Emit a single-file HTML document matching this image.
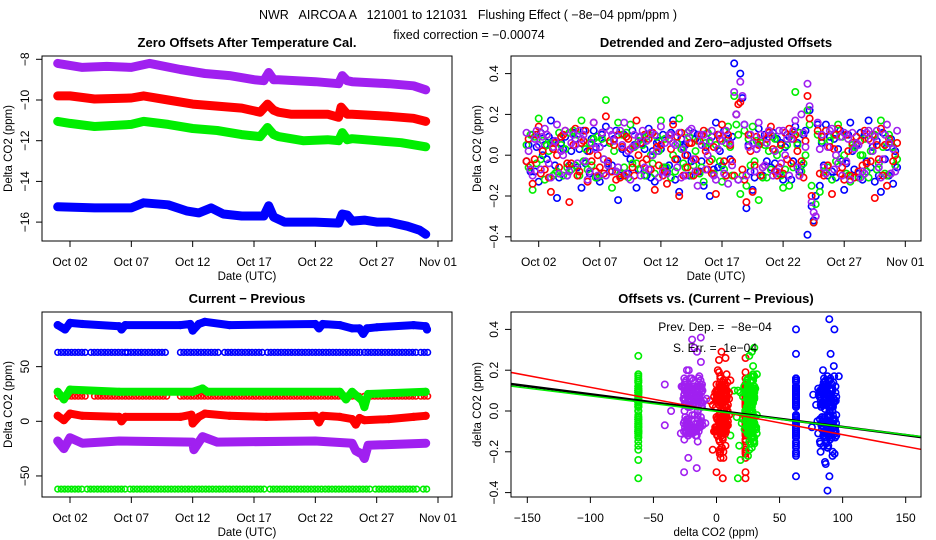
<!DOCTYPE html>
<html><head><meta charset="utf-8"><style>
body{margin:0;background:#fff}
svg{display:block;font-family:"Liberation Sans",Arial,sans-serif}
</style></head><body>
<svg id="c" width="936" height="540" viewBox="0 0 936 540">
<rect width="936" height="540" fill="#fff"/>
<text x="468" y="19" font-size="12.5" text-anchor="middle" style="white-space:pre" xml:space="preserve">NWR   AIRCOA A   121001 to 121031   Flushing Effect ( −8e−04 ppm/ppm )</text>
<text x="469" y="39" font-size="12.5" text-anchor="middle">fixed correction = −0.00074</text>
<defs>
<clipPath id="cp1"><rect x="42" y="56" width="410" height="185"/></clipPath>
<clipPath id="cp2"><rect x="511" y="56" width="410" height="185"/></clipPath>
<clipPath id="cp3"><rect x="42" y="312" width="410" height="185"/></clipPath>
<clipPath id="cp4"><rect x="511" y="312" width="410" height="185"/></clipPath>
</defs>
</svg>
<script>
// ---------- data ----------
const dateTicks=[2,7,12,17,22,27,32];
const dateTickLabels=["Oct 02","Oct 07","Oct 12","Oct 17","Oct 22","Oct 27","Nov 01"];
const p1Ticks=[-8,-10,-12,-14,-16];
const p2Ticks=[0.4,0.2,0.0,-0.2,-0.4];
const p2TickLabels=["0.4","0.2","0.0","−0.2","−0.4"];
const p3Ticks=[50,0,-50];
const p4XTicks=[-150,-100,-50,0,50,100,150];
const colors=["#0000ff","#ff0000","#00ee00","#a020f0"];
// panel 1 raw offsets (day, value)
const p1PurpleT=[1,3,5,7,8.5,11,13,15,17,17.8,18.2,18.6,19,22,23.9,24.2,24.6,25,28,30,31];
const p1PurpleV=[-8.2,-8.4,-8.35,-8.4,-8.2,-8.5,-8.7,-8.8,-9.0,-9.05,-8.65,-9.0,-9.0,-9.1,-9.2,-8.8,-9.05,-9.1,-9.2,-9.3,-9.5];
const p1RedT=[1,2,4,7,8,10,12,14,16,17.5,18.1,18.6,19,20,23,23.9,24.1,24.6,25,28,30,31];
const p1RedV=[-9.8,-9.8,-9.95,-9.9,-9.8,-10.0,-10.2,-10.3,-10.4,-10.6,-10.2,-10.5,-10.6,-10.7,-10.7,-10.85,-10.35,-10.7,-10.7,-10.8,-10.9,-11.05];
const p1GreenT=[1,2,4,7,8,10,12,14,16,17.5,18.1,18.6,19,21,23,23.9,24.2,24.6,25,27,29,31];
const p1GreenV=[-11.05,-11.15,-11.3,-11.2,-11.05,-11.2,-11.4,-11.5,-11.7,-11.8,-11.35,-11.7,-11.8,-12.0,-11.95,-12.0,-11.6,-11.95,-11.9,-12.0,-12.1,-12.3];
const p1BlueT=[1,4,7,8,10,11.5,12.5,13.5,14.5,16,17.8,18.2,18.6,19.5,22,23.9,24.2,24.6,25,26,27,28,29.5,30.5,31];
const p1BlueV=[-15.25,-15.3,-15.3,-15.05,-15.15,-15.45,-15.55,-15.3,-15.6,-15.7,-15.7,-15.2,-15.75,-16.0,-16.0,-16.05,-15.6,-15.65,-15.95,-15.9,-16.0,-16.0,-16.2,-16.4,-16.6];
// shared half-day sample times for detrended offsets (three interleaved sample sets)
const sampleT=[1,1.5,2,2.5,3,3.5,4,4.5,5,5.5,6,6.5,7,7.5,8,8.5,9,9.5,10,10.5,11,11.5,12,12.5,13,13.5,14,14.5,15,15.5,16,16.5,17,17.5,18,18.5,19,19.5,20,20.5,21,21.5,22,22.5,23,23.5,24,24.5,25,25.5,26,26.5,27,27.5,28,28.5,29,29.5,30,30.5,31];
const setOffsets=[0,0.17,0.33];
const detBlue=[-0.03,0.1,-0.13,0.05,0.17,-0.21,0.03,-0.05,0.08,-0.16,0.02,0.12,-0.13,0.14,-0.05,-0.22,0.1,-0.02,-0.16,0.06,0.13,-0.13,0.03,-0.08,0.17,-0.18,0.05,-0.03,0.1,-0.15,-0.2,0.16,-0.05,0.08,0.45,0.4,-0.26,-0.17,0.13,0.1,-0.06,0.08,-0.12,0.09,0.14,-0.05,-0.39,-0.32,-0.15,0.15,-0.08,0.03,-0.17,0.16,0.05,-0.12,0.17,-0.13,-0.18,0.04,-0.14];
const detBlueB=[0.05,-0.08,0.11,-0.02,0.07,-0.11,0.09,0.02,-0.06,0.12,-0.09,0.04,0.1,-0.04,0.08,-0.1,0.01,0.12,-0.07,0.03,-0.11,0.06,0.1,-0.05,-0.12,0.08,0.0,0.11,-0.08,0.04,0.09,-0.06,0.12,-0.02,0.2,0.28,0.05,-0.11,0.07,-0.03,0.11,-0.09,0.04,-0.12,0.06,0.1,0.22,-0.2,0.06,-0.1,0.08,0.12,-0.04,0.02,-0.09,0.1,-0.06,0.07,0.11,-0.1,0.02];
const detBlueC=[-0.08,0.04,0.0,0.09,-0.05,0.06,-0.1,0.11,0.03,-0.04,0.08,-0.11,0.06,-0.08,0.12,0.03,-0.09,0.05,0.09,-0.1,0.02,0.07,-0.06,0.11,-0.02,0.04,-0.1,0.08,-0.03,0.11,-0.07,0.02,-0.1,0.09,-0.12,0.15,-0.08,0.03,-0.1,0.09,-0.04,0.06,0.1,-0.03,-0.08,0.12,-0.25,0.15,-0.05,0.09,-0.11,-0.03,0.1,-0.07,0.11,-0.03,0.04,-0.1,-0.02,0.08,-0.06];
const detRed=[-0.03,-0.14,0.14,-0.07,-0.18,0.0,0.1,-0.23,0.13,0.06,-0.13,0.16,-0.06,0.19,-0.08,0.1,-0.1,0.03,0.17,-0.04,0.08,-0.17,0.05,-0.14,0.15,-0.2,0.0,0.06,-0.08,0.12,-0.03,-0.19,0.15,0.1,-0.1,0.26,-0.23,-0.18,0.05,-0.05,0.14,-0.1,-0.09,0.13,0.1,-0.03,0.29,-0.33,-0.09,0.12,-0.19,0.13,-0.12,-0.1,0.09,-0.05,0.08,-0.21,0.13,-0.15,-0.03];
const detRedB=[0.08,-0.02,-0.09,0.1,0.03,-0.06,0.12,-0.04,-0.1,0.07,0.02,-0.08,0.11,-0.03,0.05,-0.11,0.09,-0.06,0.0,0.1,-0.07,0.04,-0.1,0.08,-0.02,0.11,-0.06,-0.1,0.07,0.02,-0.09,0.1,-0.03,0.05,0.2,-0.07,0.1,-0.05,-0.1,0.08,0.03,-0.06,0.11,-0.04,0.02,-0.11,0.18,-0.3,0.09,-0.05,0.03,-0.09,0.1,0.06,-0.08,0.12,-0.03,0.05,-0.1,0.08,0.0];
const detRedC=[-0.05,0.1,0.02,-0.11,0.06,0.09,-0.04,0.05,-0.08,0.12,-0.03,0.0,-0.09,0.07,-0.12,0.04,0.08,-0.1,0.06,-0.02,0.11,-0.05,-0.08,0.03,0.09,-0.1,0.06,-0.02,0.1,-0.07,0.04,0.08,-0.1,-0.03,0.25,-0.12,0.02,0.09,-0.06,0.11,-0.08,0.05,-0.02,0.08,-0.1,0.07,-0.2,0.12,-0.1,0.04,0.1,-0.06,0.02,-0.11,0.07,-0.04,0.1,-0.02,0.05,-0.09,0.06];
const detGreen=[0.05,-0.17,0.18,-0.12,0.06,-0.08,-0.1,0.11,-0.05,0.17,-0.07,0.08,-0.1,0.27,-0.16,0.16,-0.06,0.15,-0.04,0.05,0.1,-0.09,0.17,-0.06,0.0,0.18,-0.06,-0.1,0.07,-0.13,0.06,0.05,-0.13,0.14,0.29,-0.19,-0.15,0.14,-0.22,0.05,-0.07,0.0,-0.16,-0.15,0.31,-0.08,0.22,-0.33,-0.18,0.12,-0.12,0.15,0.0,-0.13,0.09,0.0,-0.11,0.1,0.17,-0.1,0.04];
const detGreenB=[-0.06,0.09,-0.02,0.05,-0.1,0.11,0.03,-0.07,0.1,-0.03,0.06,-0.11,0.08,-0.05,0.02,-0.09,0.11,-0.04,0.07,-0.1,0.0,0.09,-0.06,0.1,-0.08,0.03,0.11,-0.05,-0.09,0.06,-0.02,0.1,-0.07,0.04,0.15,-0.1,0.08,-0.03,0.06,-0.11,0.09,0.03,-0.07,0.1,0.05,-0.04,0.15,-0.24,0.07,-0.06,0.1,-0.02,-0.09,0.05,-0.11,0.08,0.02,-0.07,0.04,0.1,-0.05];
const detGreenC=[0.1,-0.04,0.07,0.02,-0.09,0.05,-0.06,0.12,-0.1,0.03,-0.05,0.09,-0.02,0.06,-0.08,0.1,-0.11,0.04,-0.07,0.09,-0.04,0.02,0.08,-0.11,0.06,-0.04,0.09,0.02,-0.06,0.11,-0.09,-0.03,0.06,-0.1,0.1,0.12,-0.05,0.07,-0.11,0.02,0.08,-0.1,0.05,-0.06,0.11,0.0,-0.15,0.1,-0.08,0.07,-0.03,0.09,-0.1,0.04,0.0,-0.08,0.1,-0.04,-0.09,0.06,-0.02];
const detPurple=[0.11,-0.1,0.05,0.13,-0.11,0.15,0.0,-0.08,0.05,0.08,-0.12,0.16,0.04,-0.1,0.1,-0.06,0.16,-0.12,0.05,0.12,-0.07,0.1,0.14,-0.09,0.06,0.11,-0.1,0.13,-0.15,0.1,0.07,-0.12,0.07,-0.14,0.31,0.36,-0.1,0.06,0.16,-0.05,0.1,-0.08,0.12,-0.1,0.17,0.2,0.35,-0.28,0.03,-0.09,0.13,-0.04,0.11,-0.12,0.06,-0.08,0.12,0.09,-0.11,0.15,0.03];
const detPurpleB=[0.02,0.08,-0.07,0.1,0.04,-0.09,0.12,0.06,-0.04,0.1,-0.08,0.03,0.11,-0.05,0.07,0.12,-0.09,0.04,0.09,-0.06,0.11,0.02,-0.08,0.1,0.05,-0.11,0.08,-0.02,0.1,-0.07,0.12,0.03,-0.09,0.06,0.2,0.29,0.04,-0.08,0.1,0.06,-0.1,0.12,0.0,0.08,-0.06,0.11,0.24,-0.3,0.1,0.04,-0.07,0.09,-0.03,0.11,0.05,-0.09,0.07,0.12,-0.02,0.06,-0.08];
const detPurpleC=[-0.07,0.12,0.09,-0.04,0.07,0.02,-0.1,0.1,0.12,-0.03,0.06,-0.1,-0.02,0.12,-0.08,0.05,0.02,0.1,-0.1,0.07,0.0,-0.11,0.06,0.1,-0.06,0.03,0.12,-0.08,0.05,0.0,-0.1,0.1,0.12,-0.05,-0.12,0.15,0.1,0.03,-0.06,0.12,0.02,-0.04,0.08,0.12,-0.1,0.04,-0.23,0.16,-0.06,0.12,0.0,-0.1,0.08,0.03,-0.11,0.11,0.02,-0.06,0.1,-0.09,0.12];
// deviation of each sample's (current - previous) from the row trend, ppm
const devBlue=[0,2,-3,4,-1,5,-4,1,3,-5,2,-2,6,-3,0,4,-6,2,-1,5,-3,3,-4,1,6,-2,0,-5,3,-1,4,-3,2,-6,1,5,-2,0,3,-4,6,-1,2,-5,4,-2,0,3,-3,5,-6,1,-1,4,-4,2,6,-2,0,-3,3];
const devRed=[0,1,-2,3,-1,4,-3,1,2,-4,1,-1,4,-2,0,3,-4,1,-1,3,-2,2,-3,1,4,-1,0,-4,2,-1,3,-2,1,-4,1,3,-1,0,2,-3,4,-1,1,-3,3,-1,0,2,-2,3,-4,1,-1,3,-3,1,4,-1,0,-2,2];
const devGreen=[1,-2,3,0,-3,2,-1,3,-2,1,0,-3,2,-1,3,-2,1,0,-3,2,1,-1,3,-2,0,2,-3,1,-1,3,-2,0,2,-3,1,-1,3,0,-2,2,-3,1,0,-1,3,-2,2,-3,1,0,-2,3,-1,2,-3,0,1,-2,3,-1,0];
const devPurple=[0,3,-5,6,-2,7,-6,1,4,-7,2,-3,7,-4,0,5,-7,3,-1,6,-4,4,-6,2,7,-3,0,-6,4,-2,5,-4,3,-7,1,6,-3,0,4,-5,7,-2,3,-6,5,-3,0,4,-4,6,-7,2,-1,5,-5,3,7,-3,0,-4,4];
// panel 3 current - previous (main rows)
const p3BlueT=[1,1.6,2,3,6,6.2,6.5,11,11.8,12,12.5,13,15,22,22.3,22.6,24,25,25.6,25.9,26.2,27,30,31,31.1];
const p3BlueV=[88,84,90,89,87,84,88,88,89,83,89,91,88,89,85,89,88,85,85,80,85,86,88,87,84];
const p3RedT=[1,1.5,2,3,6,6.2,6.5,11,11.9,12,12.5,13,15,18,22,22.3,22.6,24,25,25.3,25.6,26,28,30,31];
const p3RedV=[5,1,7,5,4,0,4,4,6,-2,4,7,5,4,5,-1,5,4,2,-3,3,1,2,4,5];
const p3GreenT=[1,1.5,2,6,12,12.8,13.2,24,24.5,25,25.8,26,26.3,31];
const p3GreenV=[27,20,29,27,27,30,27,27,20,27,19,13,25,27];
const p3PurpleT=[1,1.5,2,3,6,12,12.1,12.8,14,22,25,25.3,25.8,26,26.3,31];
const p3PurpleV=[-18,-25,-15,-20,-18,-19,-26,-14,-19,-18,-20,-27,-30,-34,-22,-20];
// panel 3 sparse rows: level and active day segments
const sparseLevels=[63,23,-62];
const sparseColorIdx=[0,1,2];
const blueSparseSeg=[[1,3.5],[3.7,6.5],[6.7,10],[11,14.2],[14.6,17.8],[18.1,25.7],[26,30.3],[30.6,31.2]];
const redSparseSeg=[[1,3.5],[4,6.7],[6.8,10],[11,17.9],[18,25.7],[26,30.3],[30.6,31.2]];
const greenSparseSeg=[[1,3.2],[3.4,6.7],[6.9,17.9],[18.3,22.5],[22.8,26.5],[26.9,30.5],[30.8,31.2]];
// panel 4 fits
const fitNames=["red","black","green"];
const fitSlopes=[-0.00116,-0.0008,-0.00076];
const fitIntercepts=[0.0,0.002,-0.002];
const fitColors=["#ff0000","#000000","#00ee00"];
const fitWidths=[1.5,2.5,1.5];

// ---------- helpers ----------
const svg=document.getElementById('c');
const NS='http://www.w3.org/2000/svg';
function mk(tag,attrs,parent){const e=document.createElementNS(NS,tag);for(const k in attrs)e.setAttribute(k,attrs[k]);(parent||svg).appendChild(e);return e;}
function interp(T,V,t){if(t<=T[0])return V[0];for(let i=1;i<T.length;i++){if(t<=T[i]){const f=(t-T[i-1])/(T[i]-T[i-1]);return V[i-1]+f*(V[i]-V[i-1]);}}return V[V.length-1];}
const fmt=v=>String(v).replace('-','−');

const P=[
 {x0:42,x1:452,y0:56,y1:241,sx:d=>70+(d-2)*12.267,sy:v=>59.3+(-8-v)*20.35},
 {x0:511,x1:921,y0:56,y1:241,sx:d=>538.7+(d-2)*12.22,sy:v=>155.2-v*204},
 {x0:42,x1:452,y0:312,y1:497,sx:d=>70+(d-2)*12.267,sy:v=>421.3-v*1.093},
 {x0:511,x1:921,y0:312,y1:497,sx:v=>716.5+v*1.2613,sy:v=>411-v*204}
];
const titles=["Zero Offsets After Temperature Cal.","Detrended and Zero−adjusted Offsets","Current − Previous","Offsets vs. (Current − Previous)"];
const titleNames=["zero-offsets-title","detrended-offsets-title","current-previous-title","offsets-vs-diff-title"];
const ylabels=["Delta CO2 (ppm)","Delta CO2 (ppm)","Delta CO2 (ppm)","delta CO2 (ppm)"];
const xlabels=["Date (UTC)","Date (UTC)","Date (UTC)","delta CO2 (ppm)"];

function axes(pi,g){
 const p=P[pi];
 const t=mk('text',{x:(p.x0+p.x1)/2,y:p.y0-9,'font-size':'13','font-weight':'bold','text-anchor':'middle'},g);t.textContent=titles[pi];
 
 
 const b=mk('rect',{x:p.x0,y:p.y0,width:p.x1-p.x0,height:p.y1-p.y0,fill:'none',stroke:'#000','stroke-width':1},g);
 
 
 let xt,xl;
 if(pi<3){xt=dateTicks;xl=dateTickLabels;}else{xt=p4XTicks;xl=p4XTicks.map(fmt);}
 xt.forEach((v,i)=>{const x=p.sx(v);
  const tk=mk('line',{x1:x,x2:x,y1:p.y1,y2:p.y1+6,stroke:'#000'},g);
  
  
  const l=mk('text',{x:x,y:p.y1+25,'font-size':'12','text-anchor':'middle'},g);l.textContent=xl[i];
  
  });
 const xa=mk('text',{x:(p.x0+p.x1)/2,y:p.y1+39,'font-size':'11.5','text-anchor':'middle'},g);xa.textContent=xlabels[pi];
 
 
 let yt,yl;
 if(pi===0){yt=p1Ticks;yl=p1Ticks.map(fmt);}else if(pi===2){yt=p3Ticks;yl=p3Ticks.map(fmt);}else{yt=p2Ticks;yl=p2TickLabels;}
 yt.forEach((v,i)=>{const y=p.sy(v);
  const tk=mk('line',{x1:p.x0-6,x2:p.x0,y1:y,y2:y,stroke:'#000'},g);
  
  
  const l=mk('text',{transform:`translate(${p.x0-13},${y}) rotate(-90)`,'font-size':'12','text-anchor':'middle'},g);l.textContent=yl[i];
  
  });
 const ya=mk('text',{transform:`translate(${p.x0-30},${(p.y0+p.y1)/2}) rotate(-90)`,'font-size':'11.5','text-anchor':'middle'},g);ya.textContent=ylabels[pi];
 
 
}
function circ(g,x,y,col,r){const c=mk('circle',{cx:x.toFixed(1),cy:y.toFixed(1),r:r||3,fill:'none',stroke:col,'stroke-width':1.6},g);
 
 return c;}
function band(g,p,T,V,col,w,name){
 const pts=T.map((t,i)=>p.sx(t).toFixed(1)+','+p.sy(V[i]).toFixed(1)).join(' ');
 const pl=mk('polyline',{points:pts,fill:'none',stroke:col,'stroke-width':w,'stroke-linejoin':'round','stroke-linecap':'round'},g);
 
 
 T.forEach((t,i)=>circ(g,p.sx(t),p.sy(V[i]),col,3.3));
}

// ---------- panel 1 ----------
{const g=mk('g',{});
 const d=mk('g',{'clip-path':'url(#cp1)'},g);
 band(d,P[0],p1PurpleT,p1PurpleV,colors[3],9,'purple-offset-series');
 band(d,P[0],p1RedT,p1RedV,colors[1],9,'red-offset-series');
 band(d,P[0],p1GreenT,p1GreenV,colors[2],9,'green-offset-series');
 band(d,P[0],p1BlueT,p1BlueV,colors[0],9,'blue-offset-series');
 axes(0,g);}

// ---------- panel 2 ----------
const detSets=[[detBlue,detBlueB,detBlueC],[detRed,detRedB,detRedC],[detGreen,detGreenB,detGreenC],[detPurple,detPurpleB,detPurpleC]];
const devs=[devBlue,devRed,devGreen,devPurple];
{const g=mk('g',{});
 const d=mk('g',{'clip-path':'url(#cp2)'},g);
 [0,2,1,3].forEach(ci=>{detSets[ci].forEach((arr,si)=>arr.forEach((v,i)=>circ(d,P[1].sx(sampleT[i]+setOffsets[si]),P[1].sy(v),colors[ci],3.2)));});
 axes(1,g);}

// ---------- panel 3 ----------
const p3T=[p3BlueT,p3RedT,p3GreenT,p3PurpleT], p3V=[p3BlueV,p3RedV,p3GreenV,p3PurpleV];
const sparseSegs=[blueSparseSeg,redSparseSeg,greenSparseSeg];
{const g=mk('g',{});
 const d=mk('g',{'clip-path':'url(#cp3)'},g);
 sparseLevels.forEach((lv,si)=>{sparseSegs[si].forEach(s=>{for(let t=s[0];t<=s[1]+1e-6;t+=0.28)circ(d,P[2].sx(t),P[2].sy(lv),colors[sparseColorIdx[si]],2.8);});});
 band(d,P[2],p3GreenT,p3GreenV,colors[2],8,'green-diff-series');
 band(d,P[2],p3RedT,p3RedV,colors[1],8,'red-diff-series');
 band(d,P[2],p3PurpleT,p3PurpleV,colors[3],9,'purple-diff-series');
 band(d,P[2],p3BlueT,p3BlueV,colors[0],8,'blue-diff-series');
 axes(2,g);}

// ---------- panel 4 ----------
{const g=mk('g',{});
 const d=mk('g',{'clip-path':'url(#cp4)'},g);
 const p=P[3];
 sparseLevels.forEach((lv,si)=>{const ci=sparseColorIdx[si];detSets[ci].forEach(arr=>arr.forEach((v,i)=>{if(i%2===1)circ(d,p.sx(lv),p.sy(v),colors[ci],3.2);}));});
 [0,2,1,3].forEach(ci=>{const dv=devs[ci];detSets[ci].forEach((arr,si)=>arr.forEach((v,i)=>{
   const x=interp(p3T[ci],p3V[ci],sampleT[i])+dv[(i+si*20)%dv.length];
   circ(d,p.sx(x),p.sy(v),colors[ci],3.2);}));});
 fitSlopes.forEach((s,i)=>{const xa=-170,xb=170;
  const l=mk('line',{x1:p.sx(xa),y1:p.sy(fitIntercepts[i]+s*xa),x2:p.sx(xb),y2:p.sy(fitIntercepts[i]+s*xb),stroke:fitColors[i],'stroke-width':fitWidths[i]},d);
  
  });
 const a=mk('text',{x:715,y:331,'font-size':'12','text-anchor':'middle','xml:space':'preserve',style:'white-space:pre'},g);a.textContent='Prev. Dep. =  −8e−04';
 
 
 const b=mk('text',{x:715,y:352,'font-size':'12','text-anchor':'middle',style:'white-space:pre'},g);b.textContent='S. Err. =  1e−04';
 
 
 axes(3,g);}
</script>
</body></html>
